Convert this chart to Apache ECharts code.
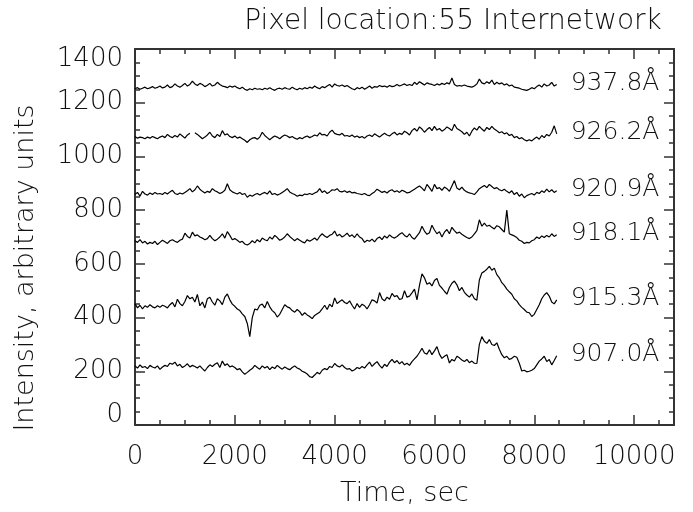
<!DOCTYPE html>
<html>
<head>
<meta charset="utf-8">
<script src="https://cdn.jsdelivr.net/npm/echarts@6/dist/echarts.min.js"></script>
<style>
  html, body { margin: 0; padding: 0; background: #fff; }
  #chart { width: 693px; height: 512px; }
</style>
</head>
<body>
<div id="chart"></div>
<script>
// Light curves at one internetwork pixel, sampled every 50 s
const STEP = 50;
const lineNames = ['937.8Å', '926.2Å', '920.9Å', '918.1Å', '915.3Å', '907.0Å'];
const xTicks = [0, 2000, 4000, 6000, 8000, 10000];
const yTicks = [0, 200, 400, 600, 800, 1000, 1200, 1400];

const i9378 = [
  1252,1256,1250,1254,1258,1252,1255,1260,1254,1257,
  1262,1255,1258,1266,1256,1260,1270,1262,1258,1264,
  1272,1262,1268,1280,1270,1264,1272,1268,1260,1265,
  1272,1262,1266,1276,1268,1262,1260,1256,1262,1258,
  1262,1256,1252,1258,1250,1246,1252,1248,1254,1250,
  1252,1248,1254,1250,1256,1250,1246,1252,1254,1250,
  1256,1252,1250,1258,1252,1248,1254,1250,1256,1252,
  1258,1254,1262,1256,1252,1260,1256,1262,1268,1258,
  1270,1264,1262,1266,1260,1264,1258,1252,1248,1256,
  1252,1258,1250,1256,1262,1254,1260,1258,1264,1260,
  1262,1258,1264,1260,1262,1268,1262,1266,1270,1264,
  1268,1264,1276,1268,1278,1272,1266,1274,1270,1268,
  1264,1270,1266,1272,1268,1274,1270,1292,1268,1262,
  1264,1262,1266,1262,1260,1258,1262,1270,1288,1274,
  1270,1278,1272,1284,1268,1276,1270,1274,1266,1270,
  1262,1266,1258,1256,1254,1250,1248,1246,1250,1256,
  1252,1260,1266,1258,1270,1262,1266,1276,1262,1268
];
const i9262 = [
  1074,1068,1072,1070,1066,1072,1068,1074,1070,1066,
  1072,1076,1070,1082,1074,1070,1078,1072,1084,1076,
  1068,1080,1086,null,1088,1082,1074,1066,1072,1080,
  1090,1076,1070,1082,1074,1096,1080,1084,1074,1070,
  1076,1068,1072,1066,1060,1052,1062,1068,1070,1064,
  1072,1090,1078,1070,1062,1070,1076,1072,1066,1074,
  1080,1076,1070,1074,1068,1064,1070,1066,1072,1076,
  1070,1074,1080,1076,1088,1080,1082,1076,1090,1098,
  1086,1082,1080,1086,1076,1078,1074,1080,1072,1076,
  1070,1074,1068,1076,1080,1074,1084,1078,1072,1080,
  1086,1080,1076,1084,1090,1080,1086,1082,1094,1088,
  1080,1096,1104,1094,1110,1102,1090,1100,1108,1096,
  1112,1098,1104,1094,1100,1110,1104,1096,1120,1104,
  1098,1092,1082,1090,1076,1094,1106,1098,1112,1102,
  1094,1108,1100,1112,1102,1096,1088,1092,1084,1088,
  1078,1082,1070,1074,1066,1070,1062,1058,1062,1058,
  1066,1072,1064,1078,1070,1082,1076,1090,1114,1084
];
const i9209 = [
  858,866,852,870,860,856,864,858,866,860,
  862,858,866,860,868,874,862,858,864,860,
  866,872,880,868,876,890,878,870,864,870,
  866,880,872,868,862,866,874,898,876,868,
  864,860,866,858,862,848,856,852,858,862,
  856,862,866,860,872,858,862,856,860,866,
  872,880,868,862,858,852,856,854,860,858,
  862,858,864,868,880,866,872,862,868,876,
  874,880,870,868,872,866,870,864,866,862,
  860,858,862,856,854,862,868,878,872,866,
  870,864,872,876,868,872,866,874,870,864,
  866,872,878,884,890,882,872,896,884,870,
  896,880,884,874,886,880,870,890,910,882,
  876,886,874,868,864,862,858,868,880,886,
  892,884,896,888,880,884,876,872,878,870,
  864,872,858,866,852,860,846,854,858,862,
  856,866,862,872,866,878,868,876,866,872
];
const i9181 = [
  686,680,690,678,684,674,680,676,684,672,
  680,688,682,676,686,690,684,680,688,692,
  714,702,696,718,704,708,700,696,690,694,
  706,694,686,692,700,712,696,720,706,690,
  694,688,680,684,674,670,676,686,678,690,
  682,696,690,686,700,692,706,698,688,692,
  700,712,702,694,686,694,688,682,678,690,
  684,690,696,688,702,712,704,698,706,710,
  722,704,710,700,706,714,702,708,698,712,
  700,694,680,688,684,692,682,694,700,690,
  704,696,708,700,696,702,710,716,706,700,
  712,698,692,704,716,740,722,710,716,744,
  726,712,720,700,718,728,712,736,724,714,
  718,710,704,698,694,700,712,724,764,740,
  752,740,744,736,730,742,738,728,718,800,
  712,708,704,698,688,684,676,680,678,686,
  690,700,694,704,698,706,700,712,702,708
];
const i9153 = [
  452,436,446,432,444,438,448,440,436,444,
  438,446,442,436,448,456,440,468,452,444,
  460,482,470,476,458,486,444,458,436,470,
  476,458,446,470,462,448,476,488,466,450,
  442,432,426,414,404,378,329,400,432,428,
  446,450,436,460,440,426,418,402,412,430,
  448,440,436,426,420,430,422,408,418,410,
  404,396,408,414,420,432,446,430,450,440,
  473,452,460,466,456,452,462,446,432,452,
  438,450,444,432,448,466,462,454,493,470,
  462,476,468,490,478,482,468,470,500,476,
  480,492,506,466,520,563,548,524,530,518,
  538,546,520,510,498,487,512,528,536,522,
  500,512,494,484,476,488,470,465,540,566,
  572,580,591,576,584,560,548,530,520,506,
  496,487,470,462,448,438,430,420,418,404,
  412,430,448,470,484,493,480,458,451,466
];
const i9070 = [
  220,212,224,214,218,210,222,216,212,220,
  207,216,222,218,230,226,234,220,226,214,
  220,228,216,222,218,212,220,210,201,214,
  224,218,226,232,214,238,222,228,216,220,
  214,206,210,198,189,196,204,210,222,214,
  208,220,212,218,206,216,210,222,214,208,
  216,210,206,214,220,212,208,200,196,190,
  180,177,186,196,190,204,210,206,218,214,
  229,220,216,224,214,208,210,201,206,214,
  210,218,212,224,234,218,228,236,222,212,
  226,218,234,244,232,240,228,236,224,230,
  222,236,246,256,270,286,268,264,280,262,
  276,292,264,248,256,262,231,244,238,256,
  250,242,236,244,232,238,230,229,300,329,
  312,304,318,300,296,306,282,262,250,256,
  244,248,256,252,230,201,204,198,200,204,
  210,224,238,246,256,236,244,224,240,258
];

const lineValues = [i9378, i9262, i9209, i9181, i9153, i9070];

const FONT = '"DejaVu Sans", "Liberation Sans", sans-serif';
const INK = '#111';
const AXIS = '#333';

function pairs(vals) {
  return vals.map((v, i) => [i * STEP, v]);
}

const series = lineNames.map((name, k) => ({
  name: name,
  type: 'line',
  xAxisIndex: 0,
  yAxisIndex: 0,
  data: pairs(lineValues[k]),
  showSymbol: false,
  symbol: 'none',
  connectNulls: false,
  animation: false,
  lineStyle: { color: '#000', width: 1.2 },
  endLabel: {
    show: true,
    formatter: '{a}',
    color: INK,
    fontFamily: FONT,
    fontWeight: 200,
    fontSize: 25,
    distance: 14,
    offset: [0, -1]
  },
  emphasis: { disabled: true }
}));

function boxAxis(extra) {
  return Object.assign({
    type: 'value',
    axisLine: { show: true, onZero: false, lineStyle: { color: AXIS, width: 2 } },
    axisTick: { show: true, inside: true, length: 10, lineStyle: { color: AXIS, width: 1.5 } },
    minorTick: { show: true, splitNumber: 4, length: 5, lineStyle: { color: AXIS, width: 1.5 } },
    splitLine: { show: false },
    minorSplitLine: { show: false }
  }, extra);
}

const labelStyle = {
  color: INK,
  fontFamily: FONT,
  fontWeight: 200,
  fontSize: 26
};

const nameStyle = Object.assign({}, labelStyle, { fontSize: 27 });

const option = {
  backgroundColor: '#fff',
  animation: false,
  grid: { left: 135, right: 19, top: 49, bottom: 80, containLabel: false },
  title: {
    text: 'Pixel location:55 Internetwork',
    left: 448,
    top: 3,
    textAlign: 'center',
    textStyle: { color: INK, fontFamily: FONT, fontWeight: 200, fontSize: 28 }
  },
  xAxis: [
    boxAxis({
      position: 'bottom',
      min: 0, max: 10800, interval: 2000,
      axisLabel: Object.assign({
        show: true, margin: 19,
        customValues: xTicks,
        formatter: v => String(v)
      }, labelStyle),
      name: 'Time, sec',
      nameLocation: 'middle',
      nameGap: 55,
      nameTextStyle: nameStyle
    }),
    boxAxis({
      position: 'top',
      min: 0, max: 10800, interval: 2000,
      axisLabel: { show: false }
    })
  ],
  yAxis: [
    boxAxis({
      position: 'left',
      min: 0, max: 1400, interval: 200,
      axisLabel: Object.assign({
        show: true, margin: 12,
        lineHeight: 20,
        formatter: v => String(v),
        verticalAlignMaxLabel: 'top',
        verticalAlignMinLabel: 'bottom'
      }, labelStyle)
    }),
    boxAxis({
      position: 'right',
      min: 0, max: 1400, interval: 200,
      axisLabel: { show: false }
    })
  ],
  graphic: [{
    type: 'text',
    x: 26,
    y: 268,
    rotation: Math.PI / 2,
    style: {
      text: 'Intensity, arbitrary units',
      fill: INK,
      font: '200 27px ' + FONT,
      align: 'center',
      verticalAlign: 'middle'
    }
  }],
  series: series
};

const chart = echarts.init(document.getElementById('chart'), null, { renderer: 'canvas' });
chart.setOption(option);
</script>
</body>
</html>
